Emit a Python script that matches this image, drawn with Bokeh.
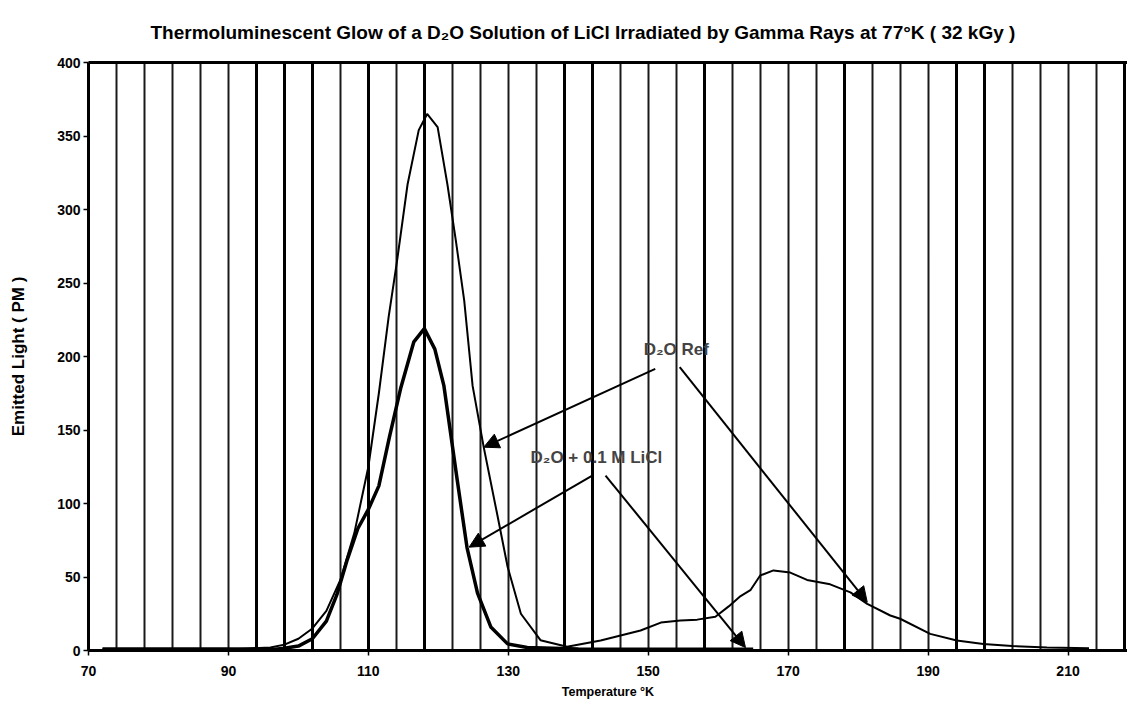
from bokeh.plotting import figure
from bokeh.models import (Range1d, FixedTicker, Grid, Label, Arrow, NormalHead,
                          ColumnDataSource, Title, LinearAxis)
from bokeh.embed import file_html
from bokeh.resources import INLINE

FONT = "Liberation Sans, Arial, sans-serif"

# ---------------- data ----------------
title_text = "Thermoluminescent Glow of a D\u2082O Solution of LiCl Irradiated by Gamma Rays at 77\u00b0K ( 32 kGy )"
x_label = "Temperature \u00b0K"
y_label = "Emitted Light ( PM )"

x_ticks = [70, 90, 110, 130, 150, 170, 190, 210]
y_ticks = [0, 50, 100, 150, 200, 250, 300, 350, 400]
grid_thin = [74, 78, 82, 86, 90, 106, 114, 122, 126, 130, 134, 146, 150, 154, 162, 166, 170, 174, 182, 186, 190, 202, 206, 210, 214]
grid_thick = [94, 98, 102, 110, 118, 138, 142, 158, 178, 194, 198, 218]

temp_ref = [72, 80, 90, 96, 98, 100, 102, 104, 106, 108, 110, 111.5, 112.9, 114.1,
            115.6, 117.2, 118.4, 119.9, 121.3, 122.5, 123.7, 124.9, 126.5, 128.4,
            129.9, 131.8, 134.6, 138.4, 143.2, 148.9, 151.8, 154.6, 157.0, 159.6,
            161.5, 163.2, 164.6, 166.0, 167.9, 170.3, 172.7, 176.0, 178.9, 181.3,
            184.6, 186.0, 190.3, 194.1, 197.9, 202, 207, 213]
light_ref = [1, 1, 1, 2, 4, 8, 15, 27, 48, 80, 125, 175, 227, 265,
             317, 354, 365, 356, 317, 279, 238, 180, 138, 93,
             57, 25, 7, 2.5, 6.8, 13.6, 19, 20.4, 21, 23,
             30, 37, 41, 51, 54.5, 53, 48, 45, 39.5, 31.7,
             23.8, 21.6, 11.3, 6.8, 4.5, 3, 2, 1.5]

temp_licl = [72, 80, 90, 96, 98, 100, 102, 104, 105.5, 107, 108.5, 110, 111.5,
             113, 114.6, 116.5, 118, 119.5, 120.8, 122.7, 124.1, 125.6, 127.5,
             129.9, 132.7, 140, 150, 165]
light_licl = [1, 1, 1, 0.5, 1.5, 3, 8, 20, 38, 62, 83, 96, 112,
              145, 178, 210, 219, 205, 180, 116, 70, 39, 16,
              4.5, 2, 1, 0.8, 0.8]

# annotations (data coordinates)
ref_label = "D\u2082O Ref"
ref_label_pos = (154.0, 204.8)
licl_label = "D\u2082O + 0.1 M LiCl"
licl_label_pos = (142.6, 131)
arrow_x0 = [151.0, 154.5, 142.0, 143.9]
arrow_y0 = [191.6, 192.7, 119.0, 119.0]
arrow_x1 = [126.5, 181.3, 124.4, 163.9]
arrow_y1 = [138.3, 32.9, 70.3, 2.0]

# ---------------- figure ----------------
p = figure(width=1127, height=704, output_backend="svg", toolbar_location=None,
           x_range=Range1d(70, 218.5), y_range=Range1d(0, 400),
           min_border_left=88, min_border_right=0, min_border_top=62,
           min_border_bottom=54)

p.title = Title(text=title_text, align="left", offset=62,
                text_font=FONT, text_font_size="19px", text_font_style="bold",
                text_color="black", standoff=39)

p.background_fill_color = "white"
p.outline_line_color = None

p.xgrid.visible = False
p.ygrid.visible = False
p.add_layout(Grid(dimension=0, ticker=FixedTicker(ticks=grid_thin),
                  grid_line_color="#1a1a1a", grid_line_width=2))
p.add_layout(Grid(dimension=0, ticker=FixedTicker(ticks=grid_thick),
                  grid_line_color="black", grid_line_width=3))

bottom_axis = p.below[0]
left_axis = p.left[0]

for ax in (bottom_axis, left_axis):
    ax.axis_line_width = 3
    ax.axis_line_color = "black"
    ax.major_tick_line_color = "black"
    ax.major_tick_line_width = 1.5
    ax.major_tick_out = 5
    ax.major_tick_in = 0
    ax.minor_tick_line_color = None
    ax.major_label_text_font = FONT
    ax.major_label_text_font_size = "14px"
    ax.major_label_text_font_style = "bold"
    ax.major_label_text_color = "black"
    ax.axis_label_text_font = FONT
    ax.axis_label_text_font_style = "bold"
    ax.axis_label_text_color = "black"

bottom_axis.ticker = FixedTicker(ticks=x_ticks)
left_axis.ticker = FixedTicker(ticks=y_ticks)
bottom_axis.axis_label = x_label
left_axis.axis_label = y_label
bottom_axis.axis_label_text_font_size = "12.5px"
left_axis.axis_label_text_font_size = "17px"
bottom_axis.major_label_standoff = 10
bottom_axis.axis_label_standoff = 6
left_axis.major_label_standoff = 3
left_axis.axis_label_standoff = 26

top_axis = LinearAxis(ticker=FixedTicker(ticks=[]), axis_line_width=3,
                      axis_line_color="black", major_label_text_font_size="0px",
                      major_tick_line_color=None, minor_tick_line_color=None,
                      major_tick_out=0, major_label_standoff=0)
p.add_layout(top_axis, "above")

p.line(temp_ref, light_ref, line_color="black", line_width=2)
p.line(temp_licl, light_licl, line_color="black", line_width=3.5)

arrows = ColumnDataSource(dict(x0=arrow_x0, y0=arrow_y0, x1=arrow_x1, y1=arrow_y1))
p.add_layout(Arrow(source=arrows, x_start="x0", y_start="y0", x_end="x1", y_end="y1",
                   line_color="black", line_width=2,
                   end=NormalHead(size=15, fill_color="black", line_color="black")))

p.add_layout(Label(x=ref_label_pos[0], y=ref_label_pos[1], text=ref_label,
                   text_align="center", text_baseline="middle",
                   text_font=FONT, text_font_size="17px", text_font_style="bold"))
p.add_layout(Label(x=licl_label_pos[0], y=licl_label_pos[1], text=licl_label,
                   text_align="center", text_baseline="middle",
                   text_font=FONT, text_font_size="17px", text_font_style="bold"))

open("out.html", "w").write(file_html(p, INLINE))
